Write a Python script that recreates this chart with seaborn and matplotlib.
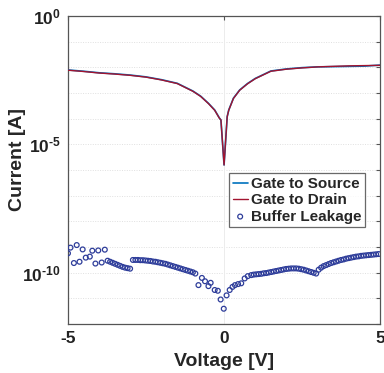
import matplotlib
matplotlib.use("Agg")
import matplotlib.pyplot as plt
import seaborn as sns
import numpy as np
import pandas as pd
from matplotlib.ticker import FixedLocator, NullLocator

# ---------------- data ----------------
gate_v = [-5, -4.5, -4, -3.5, -3, -2.5, -2, -1.5, -1, -0.75, -0.5, -0.3, -0.15, -0.1,
          0, 0.1, 0.15, 0.3, 0.5, 0.75, 1, 1.5, 2, 2.5, 3, 3.5, 4, 4.5, 5]
gate_source_log = [-2.10, -2.15, -2.21, -2.25, -2.30, -2.37, -2.48, -2.62, -2.92, -3.12,
                   -3.40, -3.66, -3.97, -4.05, -5.80, -3.92, -3.66, -3.20, -2.88, -2.63,
                   -2.43, -2.14, -2.06, -2.01, -1.98, -1.97, -1.96, -1.95, -1.91]
gate_drain_log = [-2.11, -2.16, -2.22, -2.26, -2.31, -2.38, -2.49, -2.63, -2.93, -3.13,
                  -3.41, -3.67, -3.98, -4.05, -5.80, -3.92, -3.67, -3.21, -2.89, -2.64,
                  -2.44, -2.15, -2.07, -2.02, -1.98, -1.96, -1.94, -1.93, -1.92]

buffer_v = [-5.00, -4.92, -4.81, -4.72, -4.63, -4.53, -4.43, -4.30, -4.22, -4.12, -4.03,
            -3.92, -3.82, -3.73,
            -3.65, -3.57, -3.49, -3.41, -3.33, -3.25, -3.17, -3.09, -3.01,
            -2.92, -2.84, -2.76, -2.68, -2.60, -2.52, -2.44, -2.36, -2.28, -2.20, -2.12,
            -2.04, -1.96, -1.88, -1.80, -1.72, -1.64, -1.56, -1.48, -1.40, -1.32, -1.24,
            -1.16, -1.08, -1.00, -0.92,
            -0.82, -0.71, -0.61, -0.50, -0.43, -0.30, -0.20, -0.11, -0.01, 0.08, 0.18,
            0.27, 0.35, 0.45, 0.55, 0.66, 0.76, 0.87,
            0.95, 1.03, 1.11, 1.19, 1.27, 1.35, 1.43, 1.51, 1.59, 1.67, 1.75, 1.83, 1.91,
            1.99, 2.07, 2.15, 2.23, 2.31, 2.39, 2.47, 2.55, 2.63, 2.71, 2.79, 2.87, 2.95,
            3.03, 3.11, 3.19, 3.27, 3.35, 3.43, 3.51, 3.59, 3.67, 3.75, 3.83, 3.91, 3.99,
            4.07, 4.15, 4.23, 4.31, 4.39, 4.47, 4.55, 4.63, 4.71, 4.79, 4.87, 4.95]
buffer_log = [-9.24, -9.02, -9.62, -8.92, -9.57, -9.09, -9.41, -9.37, -9.14, -9.64, -9.13,
              -9.60, -9.10, -9.53,
              -9.57, -9.61, -9.65, -9.69, -9.73, -9.77, -9.80, -9.82, -9.84,
              -9.50, -9.50, -9.50, -9.51, -9.51, -9.52, -9.53, -9.54, -9.56, -9.57, -9.59,
              -9.61, -9.63, -9.65, -9.68, -9.71, -9.74, -9.77, -9.80, -9.83, -9.86, -9.89,
              -9.92, -9.95, -9.98, -10.03,
              -10.48, -10.20, -10.33, -10.52, -10.39, -10.67, -10.70, -11.04, -11.40,
              -10.88, -10.67, -10.55, -10.48, -10.44, -10.41, -10.22, -10.13, -10.09,
              -10.07, -10.06, -10.05, -10.04, -10.02, -10.01, -9.99, -9.97, -9.95, -9.93,
              -9.91, -9.89, -9.87, -9.85, -9.84, -9.83, -9.83, -9.83, -9.84, -9.86, -9.88,
              -9.91, -9.94, -9.97, -10.00, -10.03,
              -9.88, -9.80, -9.74, -9.70, -9.66, -9.62, -9.59, -9.56, -9.53, -9.50, -9.48,
              -9.45, -9.43, -9.41, -9.39, -9.37, -9.36, -9.34, -9.33, -9.32, -9.31, -9.30,
              -9.29, -9.28, -9.27]

x_ticks = [-5, 0, 5]
y_tick_exps = list(range(-12, 1))
y_labeled = {0: r'$\mathbf{10^{0}}$', -5: r'$\mathbf{10^{\text{-}5}}$',
             -10: r'$\mathbf{10^{\text{-}10}}$'}

# ---------------- style ----------------
sns.set_style("white")
plt.rcParams['font.family'] = ['Liberation Sans', 'DejaVu Sans']
plt.rcParams['font.weight'] = 'bold'
plt.rcParams['mathtext.fontset'] = 'custom'
plt.rcParams['mathtext.rm'] = 'Liberation Sans:bold'
plt.rcParams['mathtext.bf'] = 'Liberation Sans:bold'

fig = plt.figure(figsize=(3.84, 3.73), dpi=100)
ax = fig.add_axes([0.177, 0.131, 0.813, 0.826])

gate_df = pd.DataFrame({"v": gate_v,
                        "src": np.power(10.0, gate_source_log),
                        "drn": np.power(10.0, gate_drain_log)})
buf_df = pd.DataFrame({"v": buffer_v, "i": np.power(10.0, buffer_log)})

# grid
for e in y_tick_exps:
    ax.axhline(10.0 ** e, color='#e0e0e0', lw=0.7, ls=(0, (1, 1.5)), zorder=0)
ax.axvline(0, color='#ececec', lw=0.7, zorder=0)

sns.lineplot(data=gate_df, x="v", y="src", ax=ax, color='#0072BD', lw=1.2,
             label='Gate to Source', zorder=3)
sns.lineplot(data=gate_df, x="v", y="drn", ax=ax, color='#A2142F', lw=1.0,
             label='Gate to Drain', zorder=4)
sns.scatterplot(data=buf_df, x="v", y="i", ax=ax, marker='o', s=12,
                facecolor='none', edgecolor='#2E3D9A', linewidth=0.9,
                label='Buffer Leakage', zorder=5)

ax.set_yscale('log')
ax.set_xlim(-5, 5)
ax.set_ylim(1e-12, 1e0)

ax.xaxis.set_major_locator(FixedLocator(x_ticks))
ax.xaxis.set_minor_locator(NullLocator())
ax.set_xticklabels([str(t) for t in x_ticks], fontsize=12.5, fontweight='bold')
ax.yaxis.set_major_locator(FixedLocator([10.0 ** e for e in y_tick_exps]))
ax.yaxis.set_minor_locator(NullLocator())
ax.set_yticklabels([y_labeled.get(e, '') for e in y_tick_exps], fontsize=12.5)

ax.tick_params(direction='in', length=3, width=0.8, top=True, right=True,
               colors='#555555', labelcolor='#222222', pad=5)
for sp in ax.spines.values():
    sp.set_color('#555555')
    sp.set_linewidth(0.9)

ax.set_xlabel('Voltage [V]', fontsize=14, fontweight='bold')
ax.set_ylabel('Current [A]', fontsize=14, fontweight='bold')
ax.xaxis.set_label_coords(0.5, -0.095)
ax.yaxis.set_label_coords(-0.135, 0.535)

leg = ax.legend(loc='upper right', bbox_to_anchor=(0.952, 0.49), fontsize=11,
                frameon=True, fancybox=False, handlelength=1.0, handletextpad=0.2,
                borderpad=0.25, labelspacing=0.15, borderaxespad=0.0)
leg.get_frame().set_edgecolor('#444444')
leg.get_frame().set_linewidth(0.9)
for t in leg.get_texts():
    t.set_fontweight('bold')

fig.savefig('out.png', dpi=100)
